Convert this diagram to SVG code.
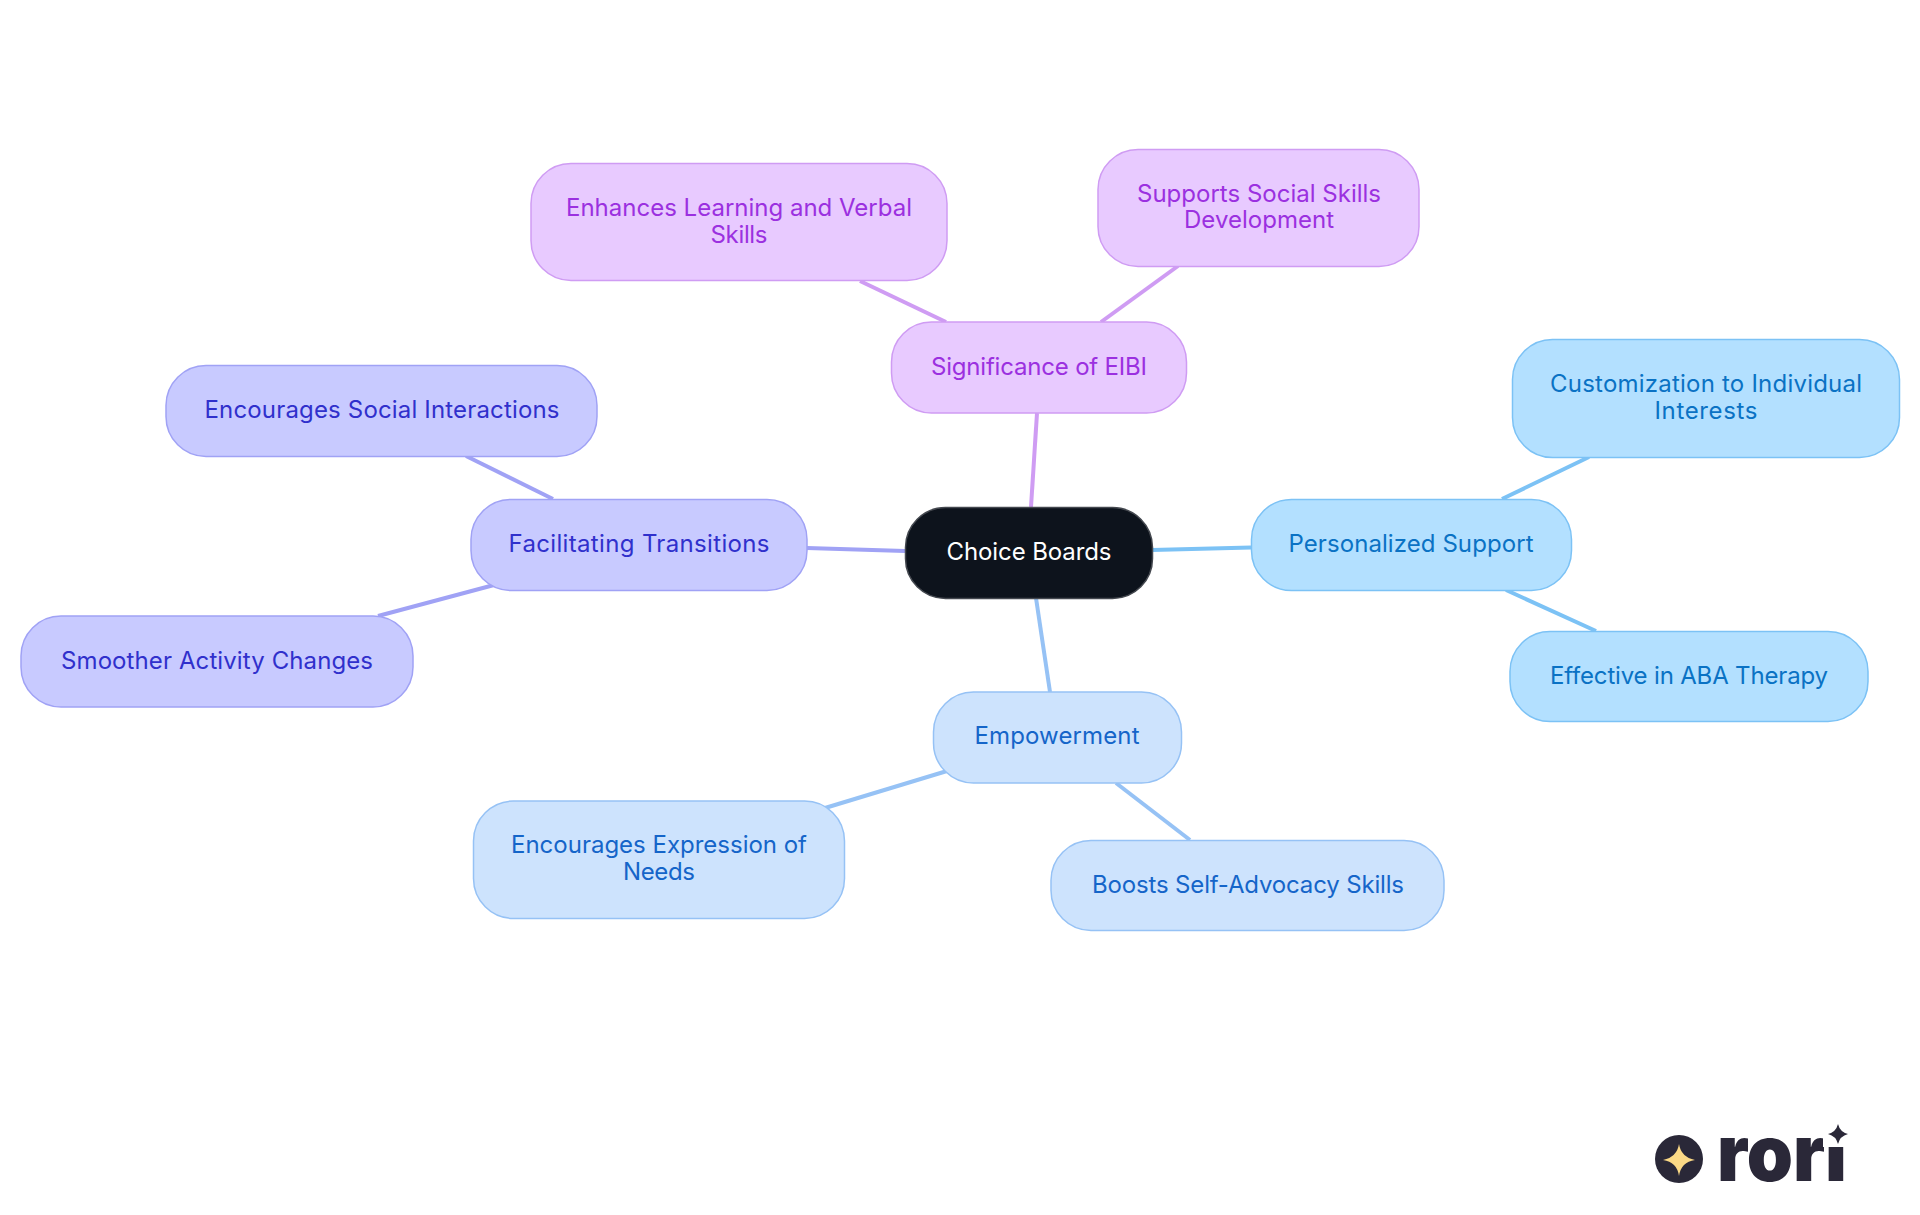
<svg xmlns="http://www.w3.org/2000/svg" width="1920" height="1215" viewBox="0 0 1920 1215">
<defs><clipPath id="noDot"><rect x="1700" y="1136" width="123" height="60"/><rect x="1823" y="1147" width="47" height="49"/></clipPath></defs>
<style>
text{font-family:"Inter","Noto Sans","Liberation Sans",sans-serif;font-size:24px;text-anchor:middle}
.node rect{stroke-width:1.5}
#connectors line{stroke-width:4;fill:none}
.purple rect{fill:#e8caff;stroke:#cf9cf3}.purple text{fill:#9b30e0}
.sky rect{fill:#b3e0ff;stroke:#7cc2f5}.sky text{fill:#0a72c4}
.blue rect{fill:#cde3fd;stroke:#96c2f5}.blue text{fill:#1565c9}
.indigo rect{fill:#c8caff;stroke:#a0a2f5}.indigo text{fill:#3030cc}
.lp{stroke:#cf9cf3}.ls{stroke:#7cc2f5}.lb{stroke:#96c2f5}.li{stroke:#a0a2f5}
</style>
<rect width="1920" height="1215" fill="#fff"/>
<g id="connectors">
<line class="lp" x1="1037" y1="413" x2="1031" y2="507"/>
<line class="lp" x1="860" y1="281" x2="946" y2="322"/>
<line class="lp" x1="1178" y1="266" x2="1101" y2="322"/>
<line class="ls" x1="1152" y1="550" x2="1251" y2="547.5"/>
<line class="ls" x1="1589" y1="457" x2="1502" y2="499"/>
<line class="ls" x1="1506" y1="590" x2="1596" y2="631"/>
<line class="lb" x1="1036" y1="598" x2="1050" y2="692"/>
<line class="lb" x1="947" y1="771" x2="825" y2="808"/>
<line class="lb" x1="1116" y1="783" x2="1190" y2="840"/>
<line class="li" x1="905" y1="551" x2="807" y2="548"/>
<line class="li" x1="553" y1="499" x2="466" y2="456"/>
<line class="li" x1="494" y1="585" x2="378" y2="616"/>
</g>
<g id="root" class="node"><rect x="905.5" y="507.5" width="247" height="91" rx="40" fill="#0d131c" stroke="#44484f"/><text x="1029" y="560" fill="#fff" textLength="165">Choice Boards</text></g>
<g id="significance" class="node purple"><rect x="891.5" y="322" width="295" height="91" rx="40"/><text x="1039" y="375" textLength="216">Significance of EIBI</text></g>
<g id="enhances" class="node purple"><rect x="531" y="163.5" width="416" height="117" rx="40"/><text x="739" y="216" textLength="346">Enhances Learning and Verbal</text><text x="739" y="243" textLength="57">Skills</text></g>
<g id="supports" class="node purple"><rect x="1098" y="149.5" width="321" height="117" rx="40"/><text x="1259" y="202" textLength="244">Supports Social Skills</text><text x="1259" y="228" textLength="150">Development</text></g>
<g id="personalized" class="node sky"><rect x="1251.5" y="499.5" width="320" height="91" rx="40"/><text x="1411" y="552" textLength="245">Personalized Support</text></g>
<g id="customization" class="node sky"><rect x="1512.5" y="339.5" width="387" height="118" rx="40"/><text x="1706" y="392" textLength="312">Customization to Individual</text><text x="1706" y="419" textLength="103">Interests</text></g>
<g id="effective" class="node sky"><rect x="1510" y="631.5" width="358" height="90" rx="40"/><text x="1689" y="684" textLength="278">Effective in ABA Therapy</text></g>
<g id="empowerment" class="node blue"><rect x="933.5" y="692" width="248" height="91" rx="40"/><text x="1057" y="744" textLength="165">Empowerment</text></g>
<g id="expression" class="node blue"><rect x="473.5" y="801" width="371" height="117.5" rx="40"/><text x="659" y="853" textLength="296">Encourages Expression of</text><text x="659" y="880" textLength="72">Needs</text></g>
<g id="boosts" class="node blue"><rect x="1051" y="840.5" width="393" height="90" rx="40"/><text x="1248" y="893" textLength="312">Boosts Self-Advocacy Skills</text></g>
<g id="facilitating" class="node indigo"><rect x="471" y="499.5" width="336" height="91" rx="40"/><text x="639" y="552" textLength="261">Facilitating Transitions</text></g>
<g id="social" class="node indigo"><rect x="166" y="365.5" width="431" height="91" rx="40"/><text x="382" y="418" textLength="355">Encourages Social Interactions</text></g>
<g id="smoother" class="node indigo"><rect x="21" y="616" width="392" height="91" rx="40"/><text x="217" y="669" textLength="312">Smoother Activity Changes</text></g>
<g id="logo">
<circle cx="1679" cy="1159" r="24" fill="#2a2838"/>
<path d="M1679 1144Q1681 1157 1695 1160Q1681 1162 1679 1176Q1677 1162 1663 1160Q1677 1157 1679 1144Z" fill="#fbd986"/>
<text x="1782" y="1181" fill="#2a2838" textLength="130" lengthAdjust="spacingAndGlyphs" clip-path="url(#noDot)" style="font-size:78px;font-weight:900">rori</text>
<path d="M1838 1124Q1840 1132 1848 1134Q1840 1136 1838 1144Q1836 1136 1828 1134Q1836 1132 1838 1124Z" fill="#2a2838"/>
</g>
</svg>
